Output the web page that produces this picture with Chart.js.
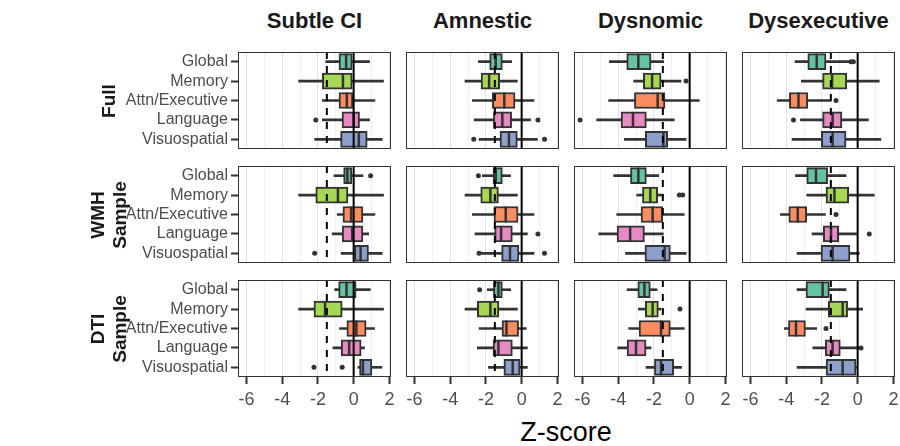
<!DOCTYPE html>
<html>
<head>
<meta charset="utf-8">
<script src="https://cdn.jsdelivr.net/npm/chart.js@4.4.1/dist/chart.umd.min.js"></script>
<style>
    body { margin: 0; width: 900px; height: 446px; background: #fff; position: relative; overflow: hidden;
           font-family: "Liberation Sans", Arial, sans-serif; }
    canvas { position: absolute; }
    .colTitle { position: absolute; top: 8px; width: 153px; text-align: center; font-weight: bold; font-size: 22px; color: #1a1a1a; }
    .rowTitle { position: absolute; transform: translate(-50%, -50%) rotate(-90deg); white-space: nowrap; text-align: center;
                font-weight: bold; font-size: 19px; line-height: 22px; color: #1a1a1a; }
    #xTitle { position: absolute; left: 566px; top: 417px; transform: translateX(-50%); font-size: 27px; color: #000; }
</style>
</head>
<body>
<div id="xTitle">Z-score</div>
<script>
    const categories = ['Global', 'Memory', 'Attn/Executive', 'Language', 'Visuospatial'];
    const groups = ['Subtle CI', 'Amnestic', 'Dysnomic', 'Dysexecutive'];
    const samples = [['Full'], ['WMH', 'Sample'], ['DTI', 'Sample']];
    const xTicks = [-6, -4, -2, 0, 2];
    const dashedAt = -1.5;
    const solidAt = 0;

    // each row: whisker low, q1, median, q3, whisker high (one row per category)
    const fullSubtle = [[-1.56, -0.82, -0.42, -0.08, 0.89], [-3.08, -1.75, -0.6, -0.08, 1.67], [-1.75, -0.82, -0.38, -0.04, 1.19], [-1.75, -0.65, 0.0, 0.33, 0.89], [-2.18, -0.73, 0.29, 0.76, 1.6]];
    const fullAmnestic = [[-2.42, -1.79, -1.45, -1.08, -0.56], [-3.17, -2.27, -1.82, -1.23, -0.24], [-2.76, -1.64, -0.97, -0.37, 0.69], [-2.66, -1.58, -1.08, -0.56, 0.5], [-2.38, -1.21, -0.71, -0.24, 0.88]];
    const fullDysnomic = [[-4.49, -3.52, -2.87, -2.16, -1.45], [-3.13, -2.59, -2.1, -1.6, -0.48], [-4.53, -3.09, -1.79, -1.38, 0.54], [-5.2, -3.84, -3.17, -2.42, -0.86], [-3.65, -2.48, -1.47, -1.23, -0.2]];
    const fullDysexec = [[-3.5, -2.79, -2.29, -1.77, -0.43], [-3.15, -1.96, -1.43, -0.61, 1.21], [-4.5, -3.82, -3.31, -2.79, -1.49], [-3.2, -1.96, -1.4, -0.88, 0.6], [-3.67, -2.03, -1.4, -0.65, 1.3]];

    const wmhSubtle = [[-1.1, -0.56, -0.35, -0.1, 0.52], [-3.08, -2.12, -0.88, -0.32, 1.67], [-0.92, -0.6, -0.14, 0.52, 1.19], [-1.2, -0.64, -0.08, 0.52, 0.84], [-0.7, 0.05, 0.39, 0.83, 1.6]];
    const wmhAmnestic = [[-2.2, -1.6, -1.45, -1.08, -0.62], [-3.17, -2.29, -1.75, -1.3, -0.24], [-2.76, -1.55, -0.89, -0.2, 0.69], [-2.61, -1.51, -1.15, -0.52, 0.32], [-2.25, -1.12, -0.65, -0.15, 0.69]];
    const wmhDysnomic = [[-4.25, -3.31, -2.87, -2.42, -1.73], [-2.96, -2.64, -2.2, -1.79, -1.49], [-4.08, -2.72, -2.07, -1.51, -0.3], [-5.08, -4.06, -3.33, -2.53, -1.47], [-3.59, -2.5, -1.4, -1.08, -0.2]];
    const wmhDysexec = [[-3.48, -2.85, -2.33, -1.68, -0.65], [-2.85, -1.77, -1.3, -0.5, 0.93], [-4.32, -3.85, -3.35, -2.85, -1.8], [-2.55, -1.92, -1.49, -1.06, -0.06], [-3.39, -2.05, -1.4, -0.43, 0.09]];

    const dtiSubtle = [[-1.06, -0.84, -0.4, 0.14, 0.93], [-3.08, -2.22, -1.6, -0.64, 1.67], [-0.79, -0.38, 0.15, 0.7, 1.17], [-1.16, -0.7, -0.25, 0.42, 0.61], [0.24, 0.33, 0.52, 1.02, 1.58]];
    const dtiAmnestic = [[-1.92, -1.58, -1.3, -1.08, -0.61], [-3.17, -2.48, -1.75, -1.27, -0.24], [-2.38, -1.1, -0.85, -0.17, 0.26], [-2.48, -1.6, -1.3, -0.52, 0.32], [-1.86, -0.99, -0.5, -0.09, 0.32]];
    const dtiDysnomic = [[-3.5, -2.9, -2.53, -2.2, -1.82], [-2.87, -2.48, -2.07, -1.75, -1.6], [-3.41, -2.83, -1.6, -1.08, -0.3], [-4.02, -3.5, -3.0, -2.44, -2.16], [-2.44, -1.97, -1.6, -0.89, -0.45]];
    const dtiDysexec = [[-3.39, -2.89, -1.96, -1.58, -0.65], [-2.89, -1.64, -0.84, -0.56, 0.28], [-4.1, -3.87, -3.45, -2.92, -2.29], [-2.51, -1.81, -1.4, -0.97, 0.1], [-3.39, -1.77, -0.84, -0.09, 0.0]];

    // outliers, one list per category
    const fullSubtleOut = [[], [], [], [-2.12], []];
    const fullAmnesticOut = [[], [], [], [0.91], [-2.68, 1.28]];
    const fullDysnomicOut = [[], [-0.2], [], [-6.13], []];
    const fullDysexecOut = [[-0.37, -0.24], [], [-1.21], [-3.59], []];
    const wmhSubtleOut = [[0.95], [], [], [], [-2.18]];
    const wmhAmnesticOut = [[-2.42], [], [], [0.91], [-2.38, 1.28]];
    const wmhDysnomicOut = [[], [-0.58, -0.39], [], [], []];
    const wmhDysexecOut = [[], [], [-1.21], [0.65], []];
    const dtiSubtleOut = [[], [], [], [], [-2.22, -0.64]];
    const dtiAmnesticOut = [[-2.35], [], [], [], []];
    const dtiDysnomicOut = [[], [-0.54], [], [], []];
    const dtiDysexecOut = [[], [], [-1.77], [0.19], []];

    const boxes = [
        [fullSubtle, fullAmnestic, fullDysnomic, fullDysexec],
        [wmhSubtle, wmhAmnestic, wmhDysnomic, wmhDysexec],
        [dtiSubtle, dtiAmnestic, dtiDysnomic, dtiDysexec]
    ];
    const outliers = [
        [fullSubtleOut, fullAmnesticOut, fullDysnomicOut, fullDysexecOut],
        [wmhSubtleOut, wmhAmnesticOut, wmhDysnomicOut, wmhDysexecOut],
        [dtiSubtleOut, dtiAmnesticOut, dtiDysnomicOut, dtiDysexecOut]
    ];

    const fills = ['#66C2A5', '#A6D854', '#FC8D62', '#E78AC3', '#8DA0CB'];
    const ink = '#333333';
    const font = '"Liberation Sans", Arial, sans-serif';

    // panel layout
    const panelLeft = [238, 406, 574, 742];
    const panelTop = [52, 166, 280];
    const panelW = 153, panelH = 97;
    const yAxisW = 140, xAxisH = 40, side = 12;
    const xMin = -6.47, xMax = 2.09;

    function noPadding(s) {
        s.paddingLeft = 0;
        s.paddingRight = 0;
        s.paddingTop = 0;
        s.paddingBottom = 0;
    }

    // medians, reference lines and panel frame
    const panelExtras = {
        id: 'panelExtras',
        afterDatasetsDraw(chart, args, opts) {
            const ctx = chart.ctx, a = chart.chartArea;
            const x = chart.scales.x, y = chart.scales.y;
            ctx.save();
            ctx.strokeStyle = ink;
            ctx.lineWidth = 2.5;
            opts.box.forEach((b, i) => {
                const px = x.getPixelForValue(b[2]);
                const py = y.getPixelForValue(i);
                ctx.beginPath();
                ctx.moveTo(px, py - 8);
                ctx.lineTo(px, py + 8);
                ctx.stroke();
            });

            ctx.strokeStyle = '#000';
            ctx.lineWidth = 2;
            ctx.setLineDash([7, 7]);
            let px = x.getPixelForValue(dashedAt);
            ctx.beginPath();
            ctx.moveTo(px, a.top);
            ctx.lineTo(px, a.bottom);
            ctx.stroke();

            ctx.setLineDash([]);
            px = x.getPixelForValue(solidAt);
            ctx.beginPath();
            ctx.moveTo(px, a.top);
            ctx.lineTo(px, a.bottom);
            ctx.stroke();

            ctx.strokeStyle = ink;
            ctx.lineWidth = 1;
            ctx.strokeRect(a.left + 0.5, a.top + 0.5, a.width - 1, a.height - 1);
            ctx.restore();
        }
    };

    function makePanel(r, c) {
        const box = boxes[r][c];
        const out = outliers[r][c];
        const showY = c === 0;
        const showX = r === 2;
        const padLeft = side + (showY ? yAxisW : 0);
        const w = panelW + padLeft + side;
        const h = panelH + (showX ? xAxisH : 0);

        const cv = document.createElement('canvas');
        cv.width = w;
        cv.height = h;
        cv.style.width = w + 'px';
        cv.style.height = h + 'px';
        cv.style.left = (panelLeft[c] - padLeft) + 'px';
        cv.style.top = panelTop[r] + 'px';
        document.body.appendChild(cv);

        const points = [];
        out.forEach((vals, i) => vals.forEach(v => points.push({ x: v, y: categories[i] })));

        new Chart(cv.getContext('2d'), {
            type: 'bar',
            data: {
                labels: categories,
                datasets: [{
                    // whiskers
                    data: box.map(b => [b[0], b[4]]),
                    backgroundColor: ink,
                    barThickness: 2,
                    grouped: false,
                    order: 3
                }, {
                    // boxes
                    data: box.map(b => [b[1], b[3]]),
                    backgroundColor: fills,
                    borderColor: ink,
                    borderWidth: 2,
                    borderSkipped: false,
                    barThickness: 16,
                    grouped: false,
                    order: 2
                }, {
                    type: 'scatter',
                    data: points,
                    pointRadius: 2.5,
                    backgroundColor: ink,
                    borderWidth: 0,
                    order: 1
                }]
            },
            options: {
                indexAxis: 'y',
                responsive: false,
                animation: false,
                layout: { padding: { left: side, right: side, top: 0, bottom: 0 }, autoPadding: false },
                plugins: {
                    legend: { display: false },
                    tooltip: { enabled: false },
                    panelExtras: { box: box }
                },
                scales: {
                    x: {
                        type: 'linear',
                        min: xMin,
                        max: xMax,
                        afterFit: s => { s.height = showX ? xAxisH : 0; noPadding(s); },
                        border: { display: false },
                        grid: {
                            color: ctx => xTicks.includes(ctx.tick.value) ? '#e3e3e3' : '#efefef',
                            lineWidth: 1,
                            drawTicks: showX,
                            tickLength: 7,
                            tickWidth: 2,
                            tickColor: ctx => xTicks.includes(ctx.tick.value) ? ink : 'rgba(0,0,0,0)'
                        },
                        ticks: {
                            display: showX,
                            stepSize: 1,
                            includeBounds: false,
                            autoSkip: false,
                            maxRotation: 0,
                            padding: 5,
                            color: '#4d4d4d',
                            font: { family: font, size: 18 },
                            callback: v => xTicks.includes(v) ? String(v) : ''
                        }
                    },
                    y: {
                        type: 'category',
                        display: showY,
                        afterFit: s => { if (showY) s.width = yAxisW; noPadding(s); },
                        border: { display: false },
                        grid: {
                            drawOnChartArea: false,
                            offset: false,
                            tickLength: 7,
                            tickWidth: 2,
                            tickColor: ink
                        },
                        ticks: {
                            autoSkip: false,
                            padding: 3,
                            color: '#4d4d4d',
                            font: { family: font, size: 16 }
                        }
                    }
                }
            },
            plugins: [panelExtras]
        });
    }

    for (let r = 0; r < 3; r++) {
        for (let c = 0; c < 4; c++) makePanel(r, c);
    }

    groups.forEach((g, c) => {
        const d = document.createElement('div');
        d.className = 'colTitle';
        d.style.left = panelLeft[c] + 'px';
        d.textContent = g;
        document.body.appendChild(d);
    });

    samples.forEach((s, r) => {
        const d = document.createElement('div');
        d.className = 'rowTitle';
        d.style.left = '109px';
        d.style.top = (panelTop[r] + panelH / 2) + 'px';
        d.innerHTML = s.join('<br>');
        document.body.appendChild(d);
    });
</script>
</body>
</html>
